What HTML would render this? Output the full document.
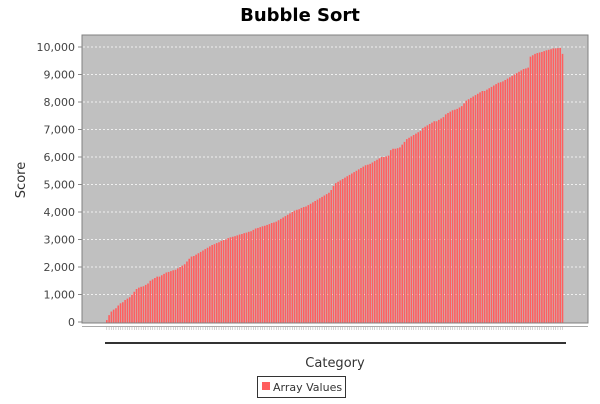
<!DOCTYPE html>
<html><head><meta charset="utf-8"><style>
body{margin:0;background:#fff;font-family:"DejaVu Sans","Liberation Sans",sans-serif}
</style></head><body>
<svg id="chart" width="600" height="400" xmlns="http://www.w3.org/2000/svg" font-family="DejaVu Sans, Liberation Sans, sans-serif">
<text x="300" y="21" text-anchor="middle" font-size="18" font-weight="bold" fill="#000">Bubble Sort</text>
<rect x="82" y="35" width="506" height="288" fill="#c0c0c0" stroke="#808080" stroke-width="1"/>
<g id="grid"></g>
<g id="bars"></g>
<g id="yaxis"></g>
<line x1="82" y1="326.5" x2="588" y2="326.5" stroke="#aaa" stroke-width="1"/>
<g id="xticks"></g>
<rect x="105" y="342" width="461" height="2" fill="#333"/>
<text transform="translate(25,180) rotate(-90)" text-anchor="middle" font-size="13" fill="#333">Score</text>
<text x="335" y="367" text-anchor="middle" font-size="13" fill="#333">Category</text>
<g>
<rect x="257.5" y="376.5" width="88" height="21" fill="#fff" stroke="#333"/>
<rect x="262" y="382" width="8" height="8" fill="#ff5e5e"/>
<text x="273" y="391" font-size="11" fill="#333">Array Values</text>
</g>
</svg>
<script>
const values=[70,250,380,450,500,600,680,720,800,850,
900,1000,1100,1200,1250,1280,1300,1350,1400,1500,
1550,1600,1650,1650,1700,1750,1800,1820,1850,1880,
1900,1950,2000,2050,2100,2200,2300,2380,2400,2450,
2500,2550,2600,2650,2700,2750,2800,2830,2870,2900,
2950,2980,3000,3050,3080,3100,3120,3150,3180,3200,
3230,3250,3280,3300,3350,3400,3420,3450,3480,3500,
3530,3560,3600,3620,3650,3700,3750,3800,3850,3900,
3950,4000,4050,4080,4100,4150,4180,4200,4250,4300,
4350,4400,4450,4500,4550,4600,4650,4700,4800,4950,
5050,5100,5150,5200,5250,5300,5350,5400,5450,5500,
5550,5600,5650,5700,5720,5750,5800,5850,5900,5950,
6000,6000,6020,6050,6250,6300,6300,6320,6350,6450,
6550,6650,6700,6750,6800,6850,6900,6950,7050,7100,
7150,7200,7250,7300,7300,7350,7400,7450,7550,7600,
7650,7700,7720,7750,7800,7850,7950,8050,8100,8150,
8200,8250,8300,8350,8400,8400,8450,8500,8550,8600,
8650,8700,8720,8750,8800,8850,8900,8950,9000,9050,
9100,9150,9200,9220,9250,9650,9700,9750,9780,9800,
9820,9850,9880,9900,9920,9950,9950,9960,9970,9750];
const yTicks=[0,1000,2000,3000,4000,5000,6000,7000,8000,9000,10000];
const NS='http://www.w3.org/2000/svg';
const y0=322,y1=47,yMax=10000;
function yScale(v){return y0-(v/yMax)*(y0-y1);}
const xStart=106,xEnd=564;
const step=(xEnd-xStart)/values.length;
function xScale(i){return xStart+i*step;}
const grid=document.getElementById('grid'),ya=document.getElementById('yaxis');
yTicks.forEach(t=>{
  const y=yScale(t);
  if(t>0){
    const l=document.createElementNS(NS,'line');
    
    
    l.setAttribute('x1',83);l.setAttribute('x2',587);l.setAttribute('y1',y);l.setAttribute('y2',y);
    l.setAttribute('stroke','#fff');l.setAttribute('stroke-dasharray','2,2');l.setAttribute('stroke-width','0.8');
    grid.appendChild(l);
  }
  const tk=document.createElementNS(NS,'line');
  
  
  tk.setAttribute('x1',78);tk.setAttribute('x2',82);tk.setAttribute('y1',y);tk.setAttribute('y2',y);tk.setAttribute('stroke','#888');
  ya.appendChild(tk);
  const tx=document.createElementNS(NS,'text');
  
  
  tx.setAttribute('x',75);tx.setAttribute('y',y+4);tx.setAttribute('text-anchor','end');
  tx.setAttribute('font-size','11');tx.setAttribute('fill','#444');
  tx.textContent=t.toLocaleString('en-US');
  ya.appendChild(tx);
});
const bars=document.getElementById('bars'),xt=document.getElementById('xticks');
values.forEach((v,i)=>{
  const x=xScale(i);
  const r=document.createElementNS(NS,'rect');
  
  
  r.setAttribute('x',x);r.setAttribute('y',yScale(v));
  r.setAttribute('width',step*0.7);r.setAttribute('height',y0-yScale(v)+0.5);
  r.setAttribute('fill','#ff5e5e');
  bars.appendChild(r);
  const t=document.createElementNS(NS,'line');
  
  
  t.setAttribute('x1',x+step*0.35);t.setAttribute('x2',x+step*0.35);t.setAttribute('y1',327);t.setAttribute('y2',330);
  t.setAttribute('stroke','#aaa');t.setAttribute('stroke-width','0.5');
  xt.appendChild(t);
});
</script>
</body></html>
